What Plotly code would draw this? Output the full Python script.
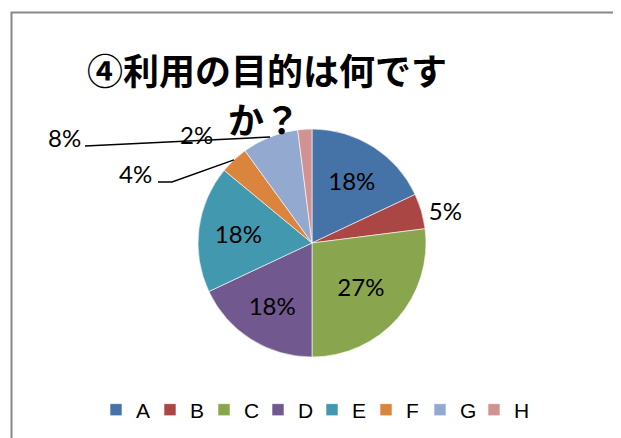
import math
import plotly.graph_objects as go

# the page body has an 8px margin, so the figure is drawn 8px right/down
OFF = 8
W, H = 621 - OFF, 438 - OFF

categories = ["A", "B", "C", "D", "E", "F", "G", "H"]
values = [18, 5, 27, 18, 18, 4, 8, 2]
colors = ["#4572A7", "#AA4643", "#89A54E", "#71588F", "#4198AF", "#DB843D", "#93A9CF", "#D19392"]
title_lines = ["④利用の目的は何です", "か？"]
# which labels are drawn inside the slices by the pie itself
text_pos = ["inside", "outside", "inside", "inside", "inside", "none", "none", "none"]

# layout (page pixels)
cx, cy, R = 312, 243, 114


def px(x):
    return (x - OFF) / W


def py(y):
    return 1 - (y - OFF) / H


total = sum(values)
pct = [round(100 * v / total) for v in values]


def edge_point(i):
    """Midpoint on the pie rim of slice i (clockwise from 12 o'clock)."""
    start = sum(values[:i]) / total
    mid = start + values[i] / total / 2
    a = 2 * math.pi * mid
    return cx + R * math.sin(a), cy - R * math.cos(a)


fig = go.Figure(go.Pie(
    labels=categories,
    values=values,
    sort=False,
    direction="clockwise",
    rotation=0,
    marker=dict(colors=colors, line=dict(color="white", width=0.6)),
    textposition=text_pos,
    texttemplate="%{percent:.0%}",
    textfont=dict(family="Lato", size=24, color="black"),
    insidetextorientation="horizontal",
    domain=dict(x=[px(cx - R), px(cx + R)], y=[py(cy + R), py(cy - R)]),
    hoverinfo="label+percent",
    showlegend=True,
))
# empty, invisible legend spacer so the last legend label is not clipped
fig.add_trace(go.Scatter(x=[None], y=[None], name=" ", mode="lines",
                         line=dict(color="rgba(0,0,0,0)", width=0),
                         showlegend=True, hoverinfo="skip"))

annotations = []
for line, (tx, ty) in zip(title_lines, [(267, 69), (264, 118)]):
    annotations.append(dict(text="<b>" + line + "</b>", x=px(tx), y=py(ty), xref="paper", yref="paper",
                            xanchor="center", yanchor="middle", showarrow=False,
                            font=dict(family="Noto Sans CJK JP", size=36, color="black")))

# outside labels with leader lines for the small slices F, G, H
label_anchor = {5: (135, 173), 6: (64, 137), 7: (197, 135)}
leader_start = {5: [(158, 182), (172, 182)], 6: [(85, 146)]}
shapes = []
for i, (lx, ly) in label_anchor.items():
    annotations.append(dict(text=f"{pct[i]}%", x=px(lx), y=py(ly), xref="paper", yref="paper",
                            xanchor="center", yanchor="middle", showarrow=False,
                            font=dict(family="Lato", size=24, color="black")))
    if i in leader_start:
        ex, ey = edge_point(i)
        pts = leader_start[i] + [(ex, ey)]
        path = "M " + " L ".join(f"{px(x):.5f},{py(y):.5f}" for x, y in pts)
        shapes.append(dict(type="path", path=path, xref="paper", yref="paper",
                           line=dict(color="black", width=1.5)))

# chart frame
shapes.append(dict(type="rect", xref="paper", yref="paper",
                   x0=px(11.5), x1=px(625), y0=py(445), y1=py(12.5),
                   line=dict(color="#888888", width=2), layer="below"))

fig.update_layout(
    width=W, height=H,
    margin=dict(l=0, r=0, t=0, b=0),
    paper_bgcolor="white",
    plot_bgcolor="white",
    xaxis=dict(visible=False),
    yaxis=dict(visible=False),
    annotations=annotations,
    shapes=shapes,
    legend=dict(orientation="h", x=px(96), xanchor="left", y=py(410), yanchor="middle",
                font=dict(family="Liberation Sans", size=21, color="black"),
                entrywidth=9, entrywidthmode="pixels", traceorder="normal"),
)

fig.write_html("out.html")
